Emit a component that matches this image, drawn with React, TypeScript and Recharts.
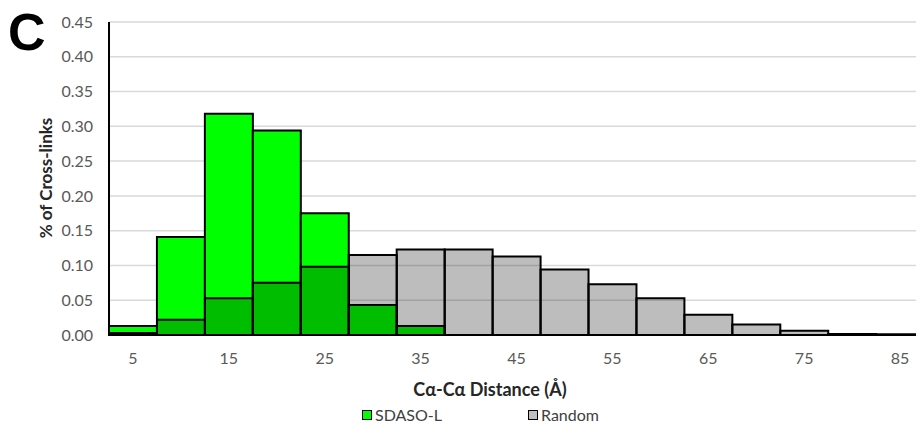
import { BarChart, Bar, XAxis, YAxis, CartesianGrid } from "recharts";

const distances = ["5", "10", "15", "20", "25", "30", "35", "40", "45", "50", "55", "60", "65", "70", "75", "80", "85"];
const sdasoL = [0.013, 0.141, 0.318, 0.294, 0.175, 0.043, 0.013, 0, 0, 0, 0, 0, 0, 0, 0, 0, 0];
const randomPairs = [0.003, 0.022, 0.053, 0.075, 0.098, 0.115, 0.123, 0.123, 0.113, 0.094, 0.073, 0.053, 0.029, 0.015, 0.006, 0.0015, 0.001];
const yTicks = [0, 0.05, 0.1, 0.15, 0.2, 0.25, 0.3, 0.35, 0.4, 0.45];

const FONT = "Lato, 'Open Sans', sans-serif";
const TICK_COLOR = "#595959";

const data = distances.map((d, i) => ({ d, sdaso: sdasoL[i], random: randomPairs[i] }));

function LegendItem({ color, label }: { color: string; label: string }) {
  return (
    <span style={{ display: "inline-flex", alignItems: "center", gap: 3 }}>
      <span style={{ width: 8, height: 8, background: color, border: "1.5px solid #000" }} />
      <span>{label}</span>
    </span>
  );
}

export default function App() {
  return (
    <div style={{ position: "fixed", left: 0, top: 0, width: 916, height: 427, overflow: "hidden", background: "#fff", fontFamily: FONT }}>
      <div style={{ position: "absolute", left: 0, top: 0 }}>
        <BarChart
          width={930}
          height={427}
          data={data}
          margin={{ top: 22, right: 6, bottom: 0, left: 0 }}
          barCategoryGap={0}
          barGap="-100%"
        >
          <CartesianGrid vertical={false} stroke="#d9d9d9" strokeWidth={1.5} />
          <XAxis
            dataKey="d"
            interval={1}
            height={92}
            tickLine={false}
            tickSize={0}
            tickMargin={18}
            axisLine={{ stroke: "#000", strokeWidth: 2 }}
            tick={{ fontSize: 16, fill: TICK_COLOR, fontFamily: FONT }}
          />
          <XAxis xAxisId="top" orientation="top" dataKey="d" height={0} tick={false} tickLine={false} axisLine={{ stroke: "#000", strokeWidth: 2 }} />
          <YAxis
            domain={[0, 0.45]}
            ticks={yTicks}
            width={109}
            tickLine={false}
            tickSize={0}
            tickMargin={16}
            axisLine={{ stroke: "#000", strokeWidth: 2 }}
            tickFormatter={(v: number) => v.toFixed(2)}
            tick={{ fontSize: 16, fill: TICK_COLOR, fontFamily: FONT }}
          />
          <Bar dataKey="sdaso" fill="#00ff00" stroke="#000" strokeWidth={2} isAnimationActive={false} />
          <Bar dataKey="random" fill="#000" fillOpacity={0.26} stroke="#000" strokeWidth={2} isAnimationActive={false} />
        </BarChart>
      </div>

      <div style={{ position: "absolute", left: 8, top: 2, fontFamily: "'Liberation Sans', Arial, sans-serif", fontWeight: 700, fontSize: 52, color: "#000", lineHeight: "60px" }}>
        C
      </div>

      <div
        style={{
          position: "absolute",
          left: 45,
          top: 178,
          transform: "translate(-50%, -50%) rotate(-90deg)",
          whiteSpace: "nowrap",
          fontWeight: 700,
          fontSize: 17,
          color: "#262626",
        }}
      >
        % of Cross-links
      </div>

      <div style={{ position: "absolute", left: 0, width: 980, top: 378, textAlign: "center", fontWeight: 700, fontSize: 18, color: "#262626", lineHeight: "22px" }}>
        Cα-Cα Distance (Å)
      </div>

      <div style={{ position: "absolute", left: 362, top: 404, fontSize: 16, color: "#404040", lineHeight: "22px", display: "flex", gap: 86 }}>
        <LegendItem color="#00ff00" label="SDASO-L" />
        <LegendItem color="#bfbfbf" label="Random" />
      </div>
    </div>
  );
}
